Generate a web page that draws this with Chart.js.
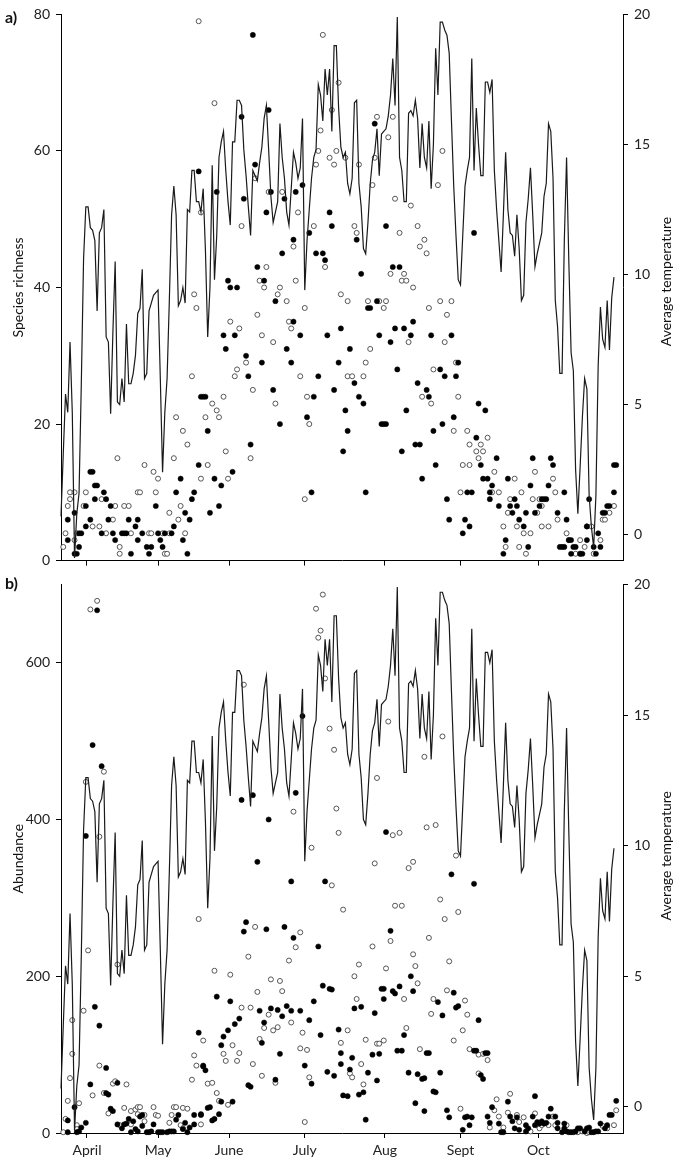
<!DOCTYPE html>
<html><head><meta charset="utf-8">
<script src="https://cdn.jsdelivr.net/npm/chart.js@4.4.1/dist/chart.umd.min.js"></script>
<style>
html,body{margin:0;padding:0;background:#fff;}
#wrap{position:relative;width:681px;height:1162px;overflow:hidden;}
canvas{position:absolute;left:0;}
</style></head><body>
<div id="wrap">
<canvas id="ca" width="681" height="575" style="top:0"></canvas>
<canvas id="cb" width="681" height="592" style="top:570px"></canvas>
</div>
<script>
// ---------- DATA ----------
const dayMax = 249;
const monthTicks = [11.5, 43, 74.5, 108, 143.5, 177, 211.5];
const monthLabels = ['April','May','June','July','Aug','Sept','Oct'];
const richTicks = [0, 20, 40, 60, 80];
const abundTicks = [0, 200, 400, 600];
const tempTicks = [0, 5, 10, 15, 20];

// daily average temperature, day 0..245
const temperature = [0.7,3.1,5.4,4.7,7.4,4.7,-0.9,0.8,1.6,5.8,
10.6,12.6,12.6,11.8,11.7,11.3,8.6,11.6,11.8,12.5,
7.6,7.4,4.65,7.8,10.5,5.1,5.0,6.0,5.1,8.1,
5.8,5.8,6.2,6.9,8.5,8.7,10.2,6.0,6.2,8.6,
8.9,9.2,9.3,9.4,6.0,2.4,4.7,6.0,9.0,12.3,
13.4,12.3,8.8,9.0,9.5,8.9,12.5,12.4,14.0,14.0,
12.8,12.8,12.4,13.3,10.9,7.6,9.5,14.2,9.8,11.5,
14.5,15.1,15.5,14.0,12.8,11.9,15.1,15.1,16.7,16.7,
16.5,14.8,13.8,12.6,11.5,14.0,13.8,13.6,14.3,14.9,
16.0,16.5,14.8,13.0,12.0,12.4,12.8,15.8,14.5,13.7,
12.4,11.9,13.3,14.7,14.3,13.7,14.1,16.0,9.4,11.3,
12.5,13.7,14.5,14.8,17.3,16.9,15.9,17.9,16.9,17.9,
15.5,18.8,18.8,16.4,14.9,14.5,14.7,13.5,13.1,13.7,
16.6,16.7,13.5,12.6,11.0,10.8,12.0,13.5,14.4,14.7,
15.6,13.8,15.4,15.5,15.6,16.1,16.9,18.3,16.5,19.9,
14.5,14.0,12.8,12.8,16.2,16.3,16.1,16.7,16.0,14.1,
15.8,14.5,14.1,15.9,13.3,15.0,18.7,16.9,19.7,19.7,
19.4,19.2,18.5,15.9,13.4,11.5,9.8,9.6,11.5,13.4,
14.0,14.5,18.3,14.0,16.4,15.0,13.8,13.8,17.4,17.4,
17.0,17.5,14.0,12.5,11.3,10.1,12.3,14.7,12.5,11.6,
11.5,10.7,12.3,11.0,9.0,9.2,12.0,12.9,14.1,12.3,
10.3,10.8,11.2,11.6,13.0,13.5,15.8,15.5,13.7,9.0,
8.0,6.2,6.2,11.3,14.5,10.5,7.0,6.3,2.5,0.8,
2.6,4.5,6.0,5.6,1.5,0.3,-0.5,1.5,6.5,8.75,
7.5,7.2,9.0,7.1,9.1,9.9];

// panel a: species richness [day, value]
const richFilled = [[61,57],[62,24],[63,24],[64,24],[61,14],[13,13],[14,13],[15,11],[16,11],[53,12],[51,10],[19,10],[15,9],[20,9],[59,10],[58,9],[11,8],[22,8],[42,8],[3,6],[13,6],[21,6],[30,6],[34,6],[57,6],[55,7],[6,7],[11,5],[33,5],[50,5],[18,4],[23,4],[27,4],[28,4],[29,4],[36,4],[43,4],[46,4],[49,4],[8,4],[9,4],[3,3],[24,3],[34,3],[44,3],[54,3],[8,2],[38,2],[40,2],[45,2],[6,1],[7,1],[31,1],[39,1],[56,1],
[85,77],[80,65],[92,66],[86,58],[69,54],[81,53],[93,54],[99,53],[104,54],[107,55],[91,51],[119,51],[120,49],[110,48],[103,47],[98,45],[113,45],[116,45],[117,44],[87,43],[74,41],[90,41],[75,40],[78,40],[95,38],[103,35],[72,33],[77,33],[106,33],[118,33],[124,34],[73,31],[100,31],[82,30],[89,29],[102,29],[123,29],[83,27],[114,27],[94,25],[121,25],[112,24],[109,21],[126,22],[65,19],[97,20],[84,17],[125,16],[68,12],[76,13],[71,11],[70,8],[66,7],[111,10],
[139,64],[144,49],[131,47],[183,48],[133,42],[147,43],[150,43],[136,37],[137,37],[140,38],[156,35],[141,33],[148,34],[152,34],[155,33],[164,33],[173,33],[146,32],[128,31],[176,29],[149,28],[168,28],[170,27],[175,27],[130,26],[158,26],[162,25],[132,24],[163,24],[134,23],[185,23],[153,22],[188,22],[174,21],[142,20],[143,20],[144,20],[169,20],[127,19],[165,19],[184,18],[157,17],[159,17],[151,16],[166,14],[186,14],[160,12],[187,12],[135,10],[180,10],[182,10],[171,9],[172,6],[179,6],[181,5],[178,4],
[193,15],[189,12],[190,10],[191,11],[190,9],[194,8],[198,12],[201,9],[200,7],[199,8],[202,8],[203,6],[205,5],[206,7],[197,3],[207,2],[196,1],[209,15],[208,11],[210,7],[212,8],[213,9],[214,9],[215,9],[216,11],[217,15],[218,14],[220,7],[223,10],[224,6],[221,2],[222,2],[223,2],[225,3],[226,3],[226,1],[227,2],[228,2],[230,1],[231,1],[233,3],[233,5],[234,9],[236,2],[237,1],[238,4],[239,2],[240,7],[241,7],[242,8],[243,8],[245,10],[245,14],[246,14]];
const richOpen = [[61,79],[62,51],[59,39],[60,37],[58,27],[51,21],[64,21],[54,19],[56,17],[25,15],[50,15],[37,14],[41,13],[43,12],[62,12],[4,10],[6,10],[11,10],[34,10],[35,10],[42,10],[18,9],[4,9],[3,8],[10,8],[24,8],[28,8],[30,8],[53,8],[23,6],[52,6],[48,7],[14,5],[17,5],[20,4],[31,4],[39,4],[40,4],[45,4],[48,4],[55,4],[2,4],[7,4],[6,3],[1,2],[26,2],[26,1],[46,1],[47,1],
[116,77],[68,67],[123,70],[120,66],[115,63],[114,60],[119,59],[121,58],[113,58],[86,56],[92,54],[98,54],[105,51],[80,49],[112,49],[103,46],[117,43],[91,43],[88,41],[104,41],[90,40],[97,40],[96,39],[124,39],[100,38],[108,37],[87,36],[75,35],[101,35],[79,34],[102,34],[89,33],[94,32],[82,29],[78,28],[77,27],[106,27],[85,25],[72,24],[109,24],[67,23],[95,23],[69,22],[70,21],[110,20],[73,16],[84,15],[65,14],[74,12],[108,9],
[140,65],[147,65],[145,62],[122,60],[126,59],[139,59],[169,60],[132,58],[138,55],[167,55],[148,53],[155,52],[130,49],[131,48],[150,48],[158,49],[159,46],[161,47],[162,45],[146,42],[152,42],[151,41],[153,41],[156,40],[127,38],[136,38],[141,38],[144,38],[143,37],[163,37],[168,38],[173,38],[171,36],[154,32],[170,32],[137,31],[135,29],[175,29],[165,28],[127,27],[129,27],[134,27],[160,24],[176,24],[164,23],[174,19],[180,19],[181,17],[186,17],[184,16],[187,16],[185,15],[178,14],[181,14],[177,10],
[189,18],[192,13],[191,10],[194,10],[201,12],[199,9],[198,7],[204,10],[202,5],[205,4],[208,4],[197,2],[203,2],[206,1],[196,5],[210,13],[209,9],[211,7],[212,9],[213,8],[213,5],[216,5],[218,12],[219,10],[220,6],[224,4],[225,3],[228,1],[230,3],[230,1],[232,2],[233,5],[235,5],[236,1],[239,3],[240,6],[241,6],[243,7],[245,8]];

// panel b: abundance [day, value]
const abundFilled = [[16,667],[14,495],[18,468],[11,379],[15,161],[17,137],[61,128],[63,85],[20,83],[13,62],[25,64],[20,51],[21,49],[6,33],[22,31],[23,28],[3,16],[25,11],[30,18],[32,15],[35,21],[36,23],[41,11],[28,11],[52,23],[51,17],[55,13],[59,23],[62,24],[57,7],[59,11],[3,1],[7,1],[8,2],[9,7],[11,13],[27,6],[29,12],[31,1],[33,5],[34,2],[36,9],[38,1],[39,1],[40,2],[43,1],[44,1],[45,1],[47,1],[48,2],[49,2],[50,2],[54,5],[56,1],
[107,532],[80,425],[85,431],[104,434],[92,400],[87,346],[102,321],[117,321],[81,257],[82,269],[91,260],[99,263],[103,249],[114,238],[116,188],[119,184],[120,183],[69,174],[75,168],[112,168],[88,156],[93,159],[96,157],[100,162],[102,156],[106,156],[90,141],[98,149],[79,146],[77,139],[110,144],[74,131],[123,132],[115,125],[72,123],[89,115],[71,112],[97,101],[124,88],[63,86],[64,80],[108,86],[95,68],[111,63],[118,78],[121,73],[83,61],[84,59],[125,48],[71,40],[76,40],[65,32],[66,33],[70,24],[62,23],[67,16],[68,18],
[144,384],[173,330],[183,318],[146,258],[155,200],[142,184],[143,184],[143,171],[147,181],[148,178],[150,187],[156,181],[174,179],[130,159],[133,161],[167,167],[175,160],[176,162],[139,153],[169,150],[185,144],[152,125],[183,105],[184,105],[141,101],[124,102],[129,96],[138,100],[136,77],[140,67],[149,105],[151,105],[154,77],[158,75],[160,69],[161,70],[162,102],[163,102],[165,53],[166,52],[168,77],[128,81],[127,47],[132,49],[134,52],[135,17],[157,38],[161,28],[171,29],[172,20],[178,4],[179,20],[180,21],[181,10],[182,20],[186,74],[187,69],
[188,102],[189,102],[189,21],[191,33],[190,13],[194,12],[195,1],[196,1],[198,40],[199,21],[200,15],[201,6],[202,20],[203,4],[206,10],[206,2],[207,6],[209,21],[210,47],[210,10],[211,14],[212,12],[213,15],[214,12],[215,13],[216,21],[217,31],[219,21],[220,13],[220,6],[222,1],[223,12],[223,6],[224,2],[225,1],[226,1],[227,1],[228,2],[229,6],[230,6],[232,2],[233,6],[234,7],[235,1],[236,1],[237,2],[238,2],[239,12],[241,6],[242,10],[243,23],[244,23],[246,41]];
const abundOpen = [[13,668],[16,679],[19,461],[11,448],[17,378],[12,233],[25,215],[10,156],[5,144],[5,101],[61,273],[63,118],[59,99],[60,86],[4,70],[17,86],[14,48],[23,63],[29,62],[24,66],[19,51],[58,68],[3,41],[8,38],[21,25],[2,18],[26,10],[28,32],[31,28],[33,30],[34,33],[35,33],[37,23],[34,24],[37,15],[41,33],[42,23],[43,22],[31,11],[48,13],[49,23],[50,33],[51,33],[54,32],[56,31],[62,11],[53,10],[1,1],[7,10],[7,5],[54,6],
[116,687],[113,669],[114,632],[115,641],[117,580],[81,572],[119,516],[121,489],[103,410],[122,414],[123,383],[111,364],[120,316],[125,285],[86,263],[106,256],[104,237],[83,225],[101,220],[68,207],[75,202],[93,196],[97,194],[87,180],[98,181],[80,160],[84,160],[92,151],[102,141],[90,134],[94,131],[96,135],[107,128],[88,120],[124,115],[76,112],[72,101],[79,102],[106,108],[109,106],[73,92],[78,92],[85,88],[89,73],[110,71],[95,64],[65,63],[67,64],[69,51],[70,41],[74,36],[108,14],
[145,525],[169,506],[161,480],[140,453],[147,380],[150,383],[162,390],[166,393],[175,354],[139,344],[154,338],[156,346],[148,290],[151,290],[168,298],[170,273],[176,282],[146,245],[163,249],[138,238],[156,228],[132,215],[157,213],[144,210],[172,219],[130,200],[158,191],[152,171],[171,182],[131,171],[165,171],[179,169],[164,152],[180,151],[127,131],[178,131],[153,134],[135,119],[140,114],[141,114],[143,118],[174,118],[181,107],[185,100],[187,101],[159,107],[128,76],[129,71],[133,88],[134,62],[177,31],[185,76],
[189,93],[193,43],[192,29],[190,7],[194,21],[196,7],[199,50],[198,26],[202,23],[203,14],[205,20],[208,2],[210,25],[212,6],[213,10],[216,10],[218,21],[219,10],[224,10],[229,1],[231,2],[233,0],[234,1],[240,9],[242,6],[245,10],[246,29]];

// ---------- CHART ----------
const FONT = 'Lato';
const toXY = arr => arr.map(p => ({x: p[0], y: p[1]}));
const tempXY = temperature.map((v, i) => ({x: i, y: v}));

const titlePlugin = {
  id: 'panelTitles',
  afterDraw(chart, args, o) {
    const ctx = chart.ctx, ca = chart.chartArea;
    const cy = (ca.top + ca.bottom) / 2;
    ctx.save();
    ctx.fillStyle = '#111';
    ctx.font = 'bold 16px ' + FONT;
    ctx.textAlign = 'left'; ctx.textBaseline = 'middle';
    ctx.fillText(o.tag, 5, o.tagY);
    ctx.font = '14px ' + FONT;
    ctx.textAlign = 'center';
    ctx.save(); ctx.translate(18, cy); ctx.rotate(-Math.PI / 2); ctx.fillText(o.left, 0, 0); ctx.restore();
    ctx.save(); ctx.translate(666, cy + o.rightDy); ctx.rotate(-Math.PI / 2); ctx.fillText(o.right, 0, 0); ctx.restore();
    ctx.restore();
  }
};

function makePanel(id, cfg) {
  const axisCommon = {
    grid: {display: true, drawOnChartArea: false, drawTicks: true, tickLength: 5, color: '#000', lineWidth: 1},
    border: {display: true, color: '#000', width: 1},
  };
  return new Chart(document.getElementById(id), {
    type: 'scatter',
    data: {datasets: [
      {type: 'line', data: tempXY, yAxisID: 'y2', borderColor: '#1a1a1a', borderWidth: 1.2,
       pointRadius: 0, tension: 0, fill: false, order: 0, clip: false},
      {data: toXY(cfg.filled), yAxisID: 'y', backgroundColor: '#000', borderColor: '#000',
       borderWidth: 0.5, pointRadius: 2.6, order: 1, clip: false},
      {data: toXY(cfg.open), yAxisID: 'y', backgroundColor: '#fff', borderColor: '#555',
       borderWidth: 1, pointRadius: 2.5, order: 2, clip: false}
    ]},
    options: {
      responsive: false, animation: false, devicePixelRatio: 1,
      layout: {padding: {top: cfg.top, left: 0, right: 0, bottom: 0}},
      plugins: {legend: {display: false}, tooltip: {enabled: false},
        panelTitles: {tag: cfg.tag, tagY: cfg.tagY, left: cfg.leftTitle, right: 'Average temperature', rightDy: cfg.rightDy}},
      scales: {
        x: Object.assign({}, axisCommon, {
          type: 'linear', min: 0, max: dayMax,
          afterBuildTicks: s => { s.ticks = monthTicks.map(v => ({value: v})); },
          afterFit: s => { s.height = cfg.xh; },
          ticks: {display: cfg.xLabels, autoSkip: false, maxRotation: 0, padding: 4,
            color: '#222', font: {family: FONT, size: 14},
            callback: v => monthLabels[monthTicks.indexOf(v)]}
        }),
        y: Object.assign({}, axisCommon, {
          position: 'left', min: 0, max: cfg.ymax,
          afterBuildTicks: s => { s.ticks = cfg.yTicks.map(v => ({value: v})); },
          afterFit: s => { s.width = 61; },
          ticks: {padding: 6, color: '#222', font: {family: FONT, size: 14}}
        }),
        y2: Object.assign({}, axisCommon, {
          position: 'right', min: -1, max: 20,
          afterBuildTicks: s => { s.ticks = tempTicks.map(v => ({value: v})); },
          afterFit: s => { s.width = 58; },
          ticks: {padding: 6, color: '#222', font: {family: FONT, size: 14}}
        })
      }
    },
    plugins: [titlePlugin]
  });
}

makePanel('ca', {filled: richFilled, open: richOpen, ymax: 80, yTicks: richTicks,
  top: 10, xh: 12, xLabels: false, tag: 'a)', tagY: 18, leftTitle: 'Species richness', rightDy: -6});
makePanel('cb', {filled: abundFilled, open: abundOpen, ymax: 700, yTicks: abundTicks,
  top: 8, xh: 29, xLabels: true, tag: 'b)', tagY: 14, leftTitle: 'Abundance', rightDy: -3});
</script>
</body></html>
